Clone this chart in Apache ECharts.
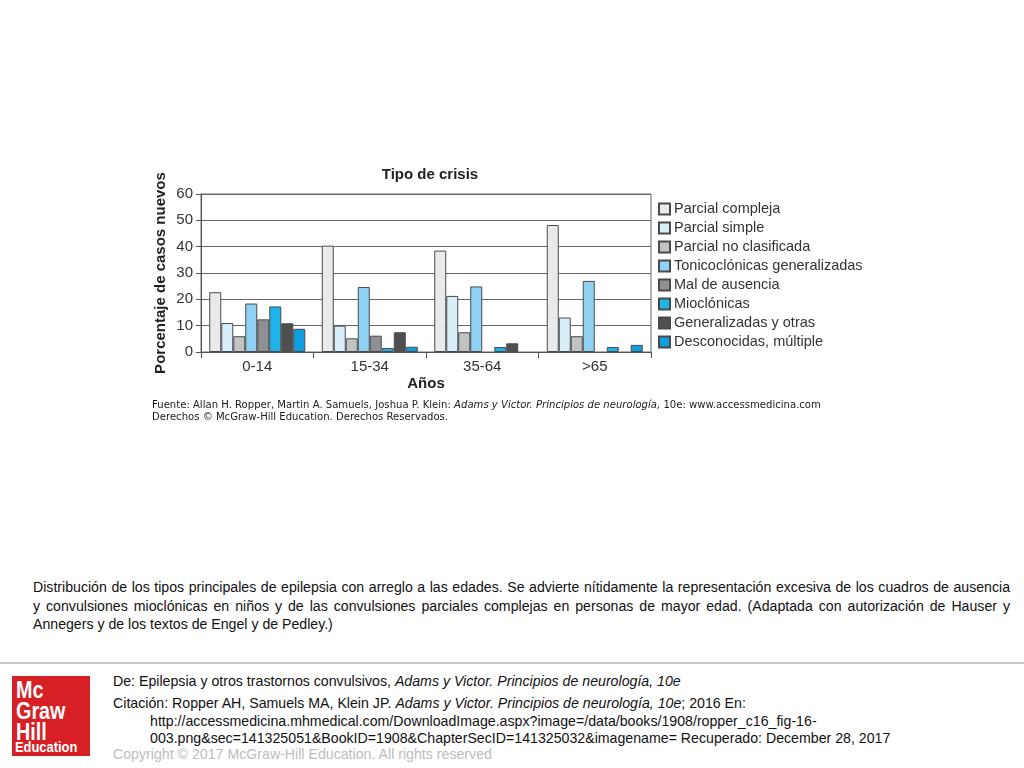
<!DOCTYPE html>
<html>
<head>
<meta charset="utf-8">
<script src="https://cdn.jsdelivr.net/npm/echarts@6/dist/echarts.min.js"></script>
<style>
  html, body { margin:0; padding:0; background:#fff; }
  #wrap { position:relative; width:1024px; height:768px; overflow:hidden; font-family:"Liberation Sans", Arial, sans-serif; }
  #chart { position:absolute; left:0; top:0; width:1024px; height:460px; }
  .src { position:absolute; left:152px; font-family:"DejaVu Sans",sans-serif; font-size:10.4px; color:#1a1a1a; white-space:nowrap; transform:scaleX(0.97); transform-origin:0 0; }
  #caption { position:absolute; left:33px; top:578px; width:1050px; transform:scaleX(0.9305); transform-origin:0 0; font-family:"Liberation Sans",Arial,sans-serif; font-size:15.2px; line-height:18.5px; color:#111; }
  #caption div { text-align:justify; text-align-last:justify; white-space:nowrap; }
  #caption div.last { text-align-last:left; }
  #hr { position:absolute; left:0; top:662px; width:1024px; height:2px; background:#c8c8c8; }
  .ft { position:absolute; font-family:"Liberation Sans",Arial,sans-serif; font-size:14.5px; color:#111; white-space:nowrap; transform:scaleX(0.977); transform-origin:0 0; }
  #logo { position:absolute; left:12px; top:676px; width:78px; height:80px; background:#d71f26; color:#fff; font-family:"Liberation Sans",Arial,sans-serif; font-weight:bold; }
  #logo div { position:absolute; left:4px; transform:scaleX(0.86); transform-origin:0 0; white-space:nowrap; }
</style>
</head>
<body>
<div id="wrap">
  <div id="chart"></div>
  <div class="src" style="top:398px;">Fuente: Allan H. Ropper, Martin A. Samuels, Joshua P. Klein: <i>Adams y Victor. Principios de neurología,</i> 10e: www.accessmedicina.com</div>
  <div class="src" style="top:410px;">Derechos © McGraw-Hill Education. Derechos Reservados.</div>
  <div id="caption">
    <div>Distribución de los tipos principales de epilepsia con arreglo a las edades. Se advierte nítidamente la representación excesiva de los cuadros de ausencia</div>
    <div>y convulsiones mioclónicas en niños y de las convulsiones parciales complejas en personas de mayor edad. (Adaptada con autorización de Hauser y</div>
    <div class="last">Annegers y de los textos de Engel y de Pedley.)</div>
  </div>
  <div id="hr"></div>
  <div id="logo">
    <div style="top:3px;font-size:23px;line-height:22px;">Mc</div>
    <div style="top:24px;font-size:23px;line-height:22px;">Graw</div>
    <div style="top:45px;font-size:23px;line-height:22px;">Hill</div>
    <div style="top:63px;left:3px;font-size:15px;line-height:16px;">Education</div>
  </div>
  <div class="ft" style="left:113px;top:673px;">De: Epilepsia y otros trastornos convulsivos, <i>Adams y Victor. Principios de neurología, 10e</i></div>
  <div class="ft" style="left:113px;top:695px;">Citación: Ropper AH, Samuels MA, Klein JP. <i>Adams y Victor. Principios de neurología, 10e</i>; 2016 En:</div>
  <div class="ft" style="left:150px;top:713px;">http://accessmedicina.mhmedical.com/DownloadImage.aspx?image=/data/books/1908/ropper_c16_fig-16-</div>
  <div class="ft" style="left:150px;top:730px;">003.png&amp;sec=141325051&amp;BookID=1908&amp;ChapterSecID=141325032&amp;imagename= Recuperado: December 28, 2017</div>
  <div class="ft" style="left:113px;top:746px;color:#bdbdbd;">Copyright © 2017 McGraw-Hill Education. All rights reserved</div>
</div>
<script>
// ---- data ----
var categories = ['0-14', '15-34', '35-64', '>65'];
var seriesNames = ['Parcial compleja', 'Parcial simple', 'Parcial no clasificada', 'Tonicoclónicas generalizadas', 'Mal de ausencia', 'Mioclónicas', 'Generalizadas y otras', 'Desconocidas, múltiple'];
var parcialCompleja = [22.7, 40.4, 38.5, 48.2];
var parcialSimple = [11, 10, 21.3, 13.1];
var parcialNoClasificada = [6, 5.2, 7.5, 6];
var tonicoclonicas = [18.4, 24.7, 24.9, 27];
var malAusencia = [12.4, 6.2, null, null];
var mioclonicas = [17.3, 1.5, 1.9, 1.9];
var generalizadasOtras = [10.9, 7.5, 3.3, null];
var desconocidas = [8.8, 2, null, 2.7];
var yTicks = [0, 10, 20, 30, 40, 50, 60];

var values = [parcialCompleja, parcialSimple, parcialNoClasificada, tonicoclonicas, malAusencia, mioclonicas, generalizadasOtras, desconocidas];
var colors = ['#e9eaec', '#d8eef9', '#c2c3c5', '#8fd2f3', '#8f9093', '#1eb4ea', '#4e4f51', '#0e9fe0'];

var chart = echarts.init(document.getElementById('chart'), null, {renderer: 'canvas'});
var series = seriesNames.map(function (n, i) {
  return {
    name: n, type: 'bar', data: values[i], barWidth: 12, barGap: '0%',
    itemStyle: { color: colors[i], borderColor: '#4a4a4a', borderWidth: 1 }
  };
});
chart.setOption({
  animation: false,
  textStyle: { fontFamily: 'Liberation Sans, Arial, sans-serif' },
  title: {
    text: 'Tipo de crisis', left: 425, top: 162, textAlign: 'center',
    textStyle: { fontSize: 15, fontWeight: 'bold', color: '#222' }
  },
  legend: {
    orient: 'vertical', left: 658, top: 201, itemWidth: 11, itemHeight: 11, itemGap: 3,
    icon: 'rect', data: seriesNames, padding: 0,
    textStyle: { fontSize: 14.5, lineHeight: 16, color: '#333', padding: [0, 0, 0, -1] }
  },
  grid: { left: 201, top: 194, width: 450, height: 158, show: true, borderColor: '#666', borderWidth: 1 },
  xAxis: {
    type: 'category', data: categories,
    name: 'Años', nameLocation: 'middle', nameGap: 24,
    nameTextStyle: { fontSize: 15, fontWeight: 'bold', color: '#222' },
    axisLine: { lineStyle: { color: '#555' } },
    axisTick: { show: true, length: 6, lineStyle: { color: '#555' } },
    axisLabel: { fontSize: 15, color: '#333', margin: 7 }
  },
  yAxis: {
    type: 'value', min: yTicks[0], max: yTicks[yTicks.length - 1], interval: 10,
    name: 'Porcentaje de casos nuevos', nameLocation: 'middle', nameGap: 33,
    nameTextStyle: { fontSize: 15, fontWeight: 'bold', color: '#222' },
    axisLine: { show: true, lineStyle: { color: '#555' } },
    axisTick: { show: true, length: 5, lineStyle: { color: '#555' } },
    axisLabel: { fontSize: 15, color: '#333', margin: 8 },
    splitLine: { lineStyle: { color: '#666' } }
  },
  series: series
});
</script>
</body>
</html>
